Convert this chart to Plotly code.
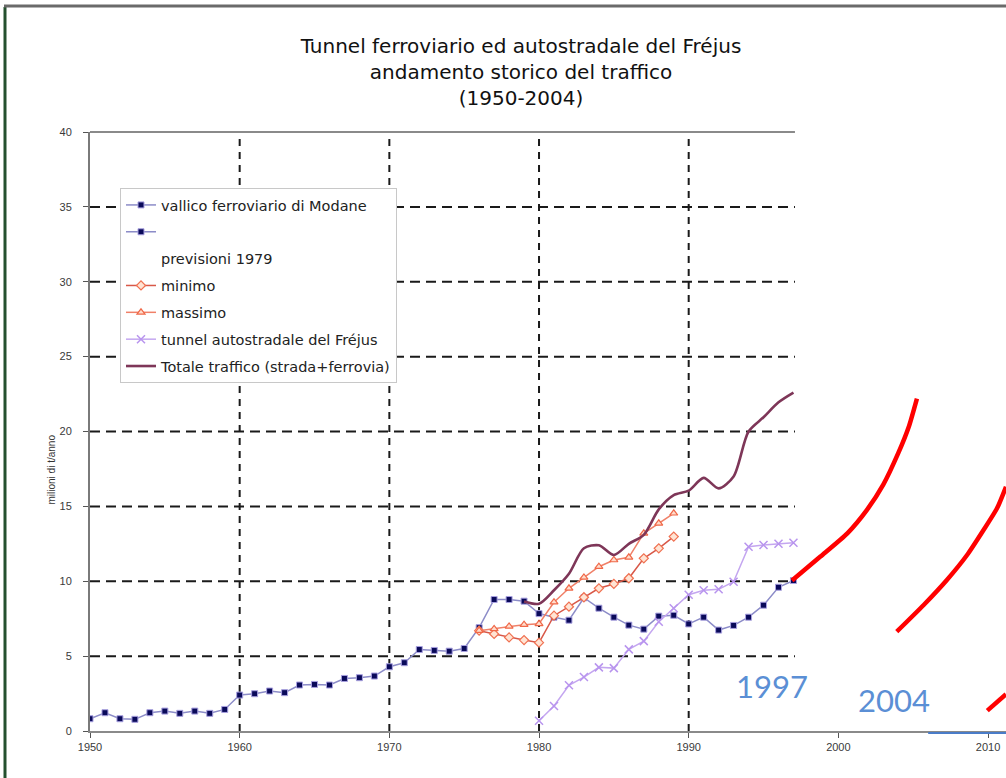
import plotly.graph_objects as go

# ---------------- data ----------------
modane_years = list(range(1950, 1998))
modane = [0.82, 1.22, 0.82, 0.78, 1.22, 1.33, 1.18, 1.33, 1.18, 1.44,
          2.40, 2.49, 2.67, 2.56, 3.07, 3.11, 3.07, 3.51, 3.56, 3.67,
          4.29, 4.56, 5.44, 5.38, 5.33, 5.51, 6.90, 8.78, 8.78, 8.67,
          7.84, 7.60, 7.40, 8.90, 8.20, 7.60, 7.07, 6.80, 7.67, 7.73,
          7.15, 7.60, 6.74, 7.05, 7.60, 8.40, 9.60, 10.05]

prev_years = list(range(1976, 1990))
minimo = [6.70, 6.48, 6.25, 6.07, 5.90, 7.70, 8.30, 8.93, 9.53, 9.82, 10.20, 11.53, 12.20, 12.98]
massimo = [6.70, 6.82, 6.98, 7.10, 7.16, 8.60, 9.53, 10.26, 10.97, 11.42, 11.60, 13.20, 13.87, 14.54]

road_years = list(range(1980, 1998))
road = [0.68, 1.67, 3.05, 3.60, 4.25, 4.20, 5.45, 6.00, 7.30, 8.20,
        9.10, 9.40, 9.46, 9.97, 12.30, 12.42, 12.50, 12.57]

total_years = list(range(1979, 1998))
total = [8.65, 8.50, 9.40, 10.50, 12.20, 12.40, 11.75, 12.50, 13.10, 14.80,
         15.75, 16.05, 16.90, 16.20, 17.00, 20.00, 20.95, 21.95, 22.60]

# hand-drawn annotations (in data units)
red1_x = [1996.9, 1998.8, 2000.6, 2001.9, 2003.0, 2004.0, 2004.7, 2005.25]
red1_y = [10.05, 11.65, 13.2, 14.75, 16.45, 18.55, 20.3, 22.2]
red2_x = [2003.9, 2005.7, 2007.25, 2008.6, 2009.7, 2010.6, 2011.2]
red2_y = [6.63, 8.41, 10.08, 11.75, 13.42, 14.87, 16.31]
red3_x = [2009.95, 2011.2]
red3_y = [1.36, 2.45]
blue_x = [2006.0, 2011.2]
year_labels = ["1997", "2004"]
year_label_x = [1995.57, 2003.72]
year_label_y = [3.0, 2.07]

x_ticks = [1950, 1960, 1970, 1980, 1990, 2000, 2010]
y_ticks = [0, 5, 10, 15, 20, 25, 30, 35, 40]
grid_x = [1960, 1970, 1980, 1990]
grid_y = [5, 10, 15, 20, 25, 30, 35]
grid_end = 1997.1
x_range = [1950, 2011.2]
y_range = [0, 40]

# ---------------- layout geometry ----------------
W, H = 1006, 778
ML, MR, MT, MB = 90, 0, 132, 47
PW, PH = W - ML - MR, H - MT - MB


def px_x(p):
    return (p - ML) / PW


def px_y(p):
    return (H - MB - p) / PH


FONT = "Liberation Sans, Arial, sans-serif"
WIDE = "DejaVu Sans, Verdana, sans-serif"

fig = go.Figure()

fig.add_trace(go.Scatter(
    x=modane_years, y=modane, name="vallico ferroviario di Modane",
    mode="lines+markers", legendgroup="g1",
    line=dict(color="#8C8CC8", width=1.5),
    marker=dict(symbol="square", size=6, color="#0A0A5A",
                line=dict(color="#A8A0E0", width=1))))
fig.add_trace(go.Scatter(
    x=[None], y=[None], name=" ", mode="lines+markers", legendgroup="g2",
    line=dict(color="#8C8CC8", width=1.5),
    marker=dict(symbol="square", size=6, color="#0A0A5A",
                line=dict(color="#A8A0E0", width=1))))
fig.add_trace(go.Scatter(
    x=[None], y=[None], name="previsioni 1979", mode="lines", legendgroup="g3",
    line=dict(color="rgba(0,0,0,0)", width=1)))
fig.add_trace(go.Scatter(
    x=prev_years, y=minimo, name="minimo", mode="lines+markers", legendgroup="g4",
    line=dict(color="#D85848", width=1.5),
    marker=dict(symbol="diamond", size=7, color="#FFE4D4",
                line=dict(color="#F07050", width=1.2))))
fig.add_trace(go.Scatter(
    x=prev_years, y=massimo, name="massimo", mode="lines+markers", legendgroup="g5",
    line=dict(color="#F08068", width=1.5),
    marker=dict(symbol="triangle-up", size=7, color="#FFDCCC",
                line=dict(color="#F06848", width=1.2))))
fig.add_trace(go.Scatter(
    x=road_years, y=road, name="tunnel autostradale del Fréjus",
    mode="lines+markers", legendgroup="g6",
    line=dict(color="#C4A6F0", width=1.5),
    marker=dict(symbol="x-thin", size=8, color="#B894EE",
                line=dict(color="#B894EE", width=1.5))))
fig.add_trace(go.Scatter(
    x=total_years, y=total, name="Totale traffico (strada+ferrovia)",
    mode="lines", legendgroup="g7",
    line=dict(color="#7E3658", width=2.6, shape="spline", smoothing=0.8)))

for xs, ys in [(red1_x, red1_y), (red2_x, red2_y), (red3_x, red3_y)]:
    fig.add_trace(go.Scatter(
        x=xs, y=ys, mode="lines", showlegend=False, hoverinfo="skip",
        line=dict(color="#FF0000", width=4.5, shape="spline", smoothing=0.6)))

shapes = []
# dashed gridlines (stop where the original picture was cut)
for gy in grid_y:
    shapes.append(dict(type="line", xref="x", yref="y", x0=x_range[0], x1=grid_end,
                       y0=gy, y1=gy, layer="below",
                       line=dict(color="#1A1A1A", width=2, dash="10px,6px")))
for gx in grid_x:
    shapes.append(dict(type="line", xref="x", yref="y", x0=gx, x1=gx,
                       y0=y_range[0], y1=y_range[1], layer="below",
                       line=dict(color="#1A1A1A", width=2, dash="7px,6px")))
# top border of the plot area
shapes.append(dict(type="line", xref="x", yref="paper", x0=x_range[0], x1=grid_end,
                   y0=1, y1=1, layer="above", line=dict(color="#8A8A8A", width=2)))
# blue underline at bottom right
shapes.append(dict(type="line", xref="x", yref="paper", x0=blue_x[0], x1=blue_x[1],
                   y0=px_y(733), y1=px_y(733), layer="above",
                   line=dict(color="#4A7CC8", width=2)))
# slide frame
shapes.append(dict(type="line", xref="paper", yref="paper", x0=px_x(5), x1=px_x(5),
                   y0=px_y(7), y1=px_y(H + 5), line=dict(color="#24502E", width=3)))
shapes.append(dict(type="line", xref="paper", yref="paper", x0=px_x(4), x1=px_x(W + 5),
                   y0=px_y(6), y1=px_y(6), line=dict(color="#6A6A6A", width=3)))

annotations = [
    dict(text="milioni di t/anno", xref="paper", yref="paper", x=px_x(43), y=px_y(470),
         textangle=-90, showarrow=False, font=dict(family=FONT, size=10, color="#333333")),
]
for t, ax, ay in zip(year_labels, year_label_x, year_label_y):
    annotations.append(dict(text=t, x=ax, y=ay, xref="x", yref="y", showarrow=False,
                            font=dict(family="Lato, Open Sans, sans-serif", size=31,
                                      color="#5B8FD5")))

fig.update_layout(
    width=W, height=H,
    margin=dict(l=ML, r=MR, t=MT, b=MB),
    paper_bgcolor="white", plot_bgcolor="white",
    title=dict(text="Tunnel ferroviario ed autostradale del Fréjus<br>"
                    "andamento storico del traffico<br>(1950-2004)",
               xref="container", x=521 / W, xanchor="center",
               yref="container", y=1 - 53 / H, yanchor="top",
               font=dict(family=WIDE, size=20, color="#111111")),
    xaxis=dict(range=x_range, tickvals=x_ticks, ticktext=[str(v) for v in x_ticks],
               showgrid=False, zeroline=False, showline=True,
               linecolor="#8A8A8A", linewidth=2, ticks="outside", ticklen=5,
               tickcolor="#555555", tickwidth=1,
               tickfont=dict(family=FONT, size=11, color="#3A3A3A")),
    yaxis=dict(range=y_range, tickvals=y_ticks, showgrid=False, zeroline=False,
               showline=True, linecolor="#7A7A7A", linewidth=2, ticks="outside",
               ticklen=5, tickcolor="#555555", tickwidth=1, ticklabelstandoff=9,
               tickfont=dict(family=FONT, size=11, color="#3A3A3A")),
    legend=dict(x=px_x(120), y=px_y(188), xanchor="left", yanchor="top",
                bgcolor="white", bordercolor="#C8C8C8", borderwidth=1,
                traceorder="grouped", tracegroupgap=5,
                font=dict(family=WIDE, size=14.5, color="#222222")),
    shapes=shapes, annotations=annotations,
    showlegend=True,
)

fig.write_html("out.html", post_script="document.body.style.margin='0';",
               config={"displayModeBar": False})
